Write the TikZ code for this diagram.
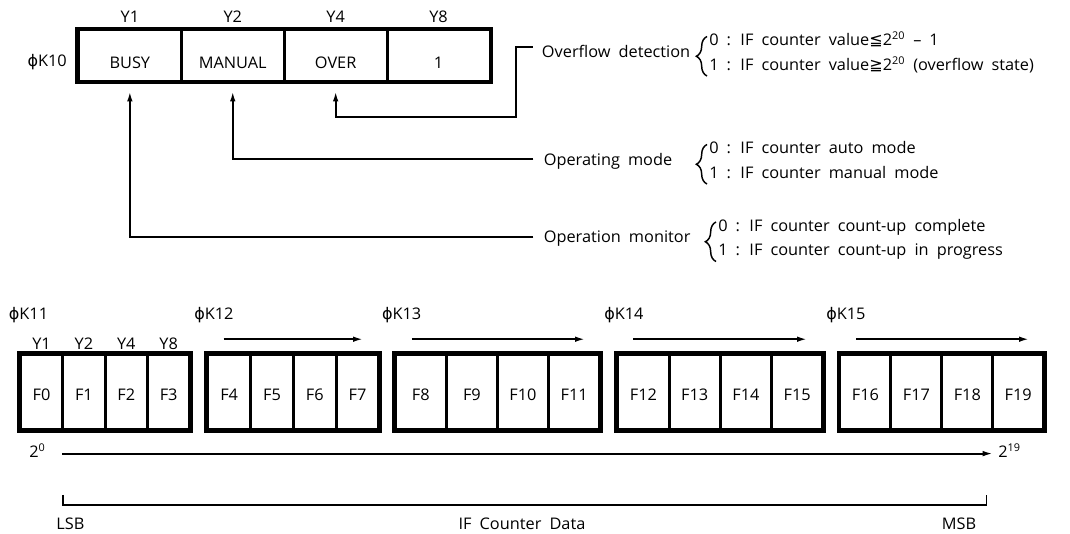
\documentclass[tikz,border=0pt]{standalone}
\usepackage{fontspec}
\setmainfont{Open Sans}[FakeStretch=1.02, WordSpace={1.9,0,0}]
\newfontfamily\symf{DejaVu Sans}
\usetikzlibrary{arrows.meta,decorations.pathreplacing}
\begin{document}
\begin{tikzpicture}[x=0.75pt,y=-0.75pt,
  font=\fontsize{12}{14}\selectfont,
  txt/.style={inner sep=0pt, anchor=base},
  txtw/.style={inner sep=0pt, anchor=base west},
  topcell/.style={draw, line width=2.2pt, inner sep=0pt, minimum width=77.175pt,
    minimum height=38.25pt, text height=28.5pt, text depth=9.75pt},
  botcell/.style={draw, line width=2.2pt, inner sep=0pt,
    minimum height=56.25pt, text height=34.5pt, text depth=21.75pt},
  outer/.style={draw, line width=3pt},
  conn/.style={line width=1.4pt, -{Latex[length=7.5pt,width=4.2pt]}},
  plain/.style={line width=1.4pt},
  brc/.style={decorate, decoration={brace, amplitude=8pt}, line width=1.1pt}
]
\useasboundingbox (0,0) rectangle (1070,533);

% ---------- top register K10
\node[topcell] (busy)   at (129.85,55.5) {BUSY};
\node[topcell] (manual) at (232.75,55.5) {MANUAL};
\node[topcell] (over)   at (335.65,55.5) {OVER};
\node[topcell] (one)    at (438.55,55.5) {1};
\draw[outer] (busy.north west) rectangle (one.south east);
\node[txt] (ty1) at (129.85,22.5) {Y1};
\node[txt] (ty2) at (232.75,22.5) {Y2};
\node[txt] (ty4) at (335.65,22.5) {Y4};
\node[txt] (ty8) at (438.55,22.5) {Y8};
\node[txt, anchor=base east] (k10) at (67,66) {{\symf ϕ}K10};

% ---------- descriptions
\node[txtw] (ovf)  at (541.7,57) {Overflow detection};
\node[txtw] (ovf0) at (709,45.5) {0 : IF counter value{\symf ≦}2\textsuperscript{20} -- 1};
\node[txtw] (ovf1) at (709,70) {1 : IF counter value{\symf ≧}2\textsuperscript{20} (overflow state)};
\draw[brc] (707,76) -- (707,36.5);

\node[txtw] (mode)  at (543.6,165) {Operating mode};
\node[txtw] (mode0) at (709,153.5) {0 : IF counter auto mode};
\node[txtw] (mode1) at (709,178) {1 : IF counter manual mode};
\draw[brc] (707,184) -- (707,144.5);

\node[txtw] (mon)  at (543.6,242.5) {Operation monitor};
\node[txtw] (mon0) at (718,231) {0 : IF counter count-up complete};
\node[txtw] (mon1) at (718,255.5) {1 : IF counter count-up in progress};
\draw[brc] (716,261.5) -- (716,222);

% ---------- connectors
\coordinate (ovfend)  at (532.7,47.3);
\coordinate (ovfknee) at (516,116.7);
\coordinate (modeend) at (533.3,159.3);
\coordinate (monend)  at (533.3,236.7);
\draw[conn] (ovfend) -| (ovfknee) -| ([yshift=-6.75pt]over.south);
\draw[conn] (modeend) -| ([yshift=-6.75pt]manual.south);
\draw[conn] (monend) -| ([yshift=-6.75pt]busy.south);

% ---------- bottom registers K11..K15
\foreach \g/\x/\w in {0/20.4/42.35, 1/207.8/42.775, 2/395.2/51.125, 3/617.8/51.275, 4/840/50.925}{
  \foreach \k in {0,...,3}{
    \pgfmathtruncatemacro\n{4*\g+\k}
    \node[botcell, minimum width=\w*0.75pt] (f\n) at ({\x+\w*(\k+0.5)},392) {F\n};
  }
  \pgfmathtruncatemacro\fa{4*\g}
  \pgfmathtruncatemacro\fb{4*\g+3}
  \draw[outer] (f\fa.north west) rectangle (f\fb.south east);
}
\node[txt] (by1) at (f0|-0,349.5) {Y1};
\node[txt] (by2) at (f1|-0,349.5) {Y2};
\node[txt] (by4) at (f2|-0,349.5) {Y4};
\node[txt] (by8) at (f3|-0,349.5) {Y8};

\node[txtw] (k11) at (8.6,319)   {{\symf ϕ}K11};
\node[txtw] (k12) at (194,319.5) {{\symf ϕ}K12};
\node[txtw] (k13) at (381.8,319.5) {{\symf ϕ}K13};
\node[txtw] (k14) at (604,319.5) {{\symf ϕ}K14};
\node[txtw] (k15) at (826,319.5) {{\symf ϕ}K15};

\coordinate (a2s) at (223.6,339.2); \coordinate (a2e) at (363,339.2);
\coordinate (a3s) at (411.8,339.2); \coordinate (a3e) at (585,339.2);
\coordinate (a4s) at (633,339.2);   \coordinate (a4e) at (807,339.2);
\coordinate (a5s) at (856,339.2);   \coordinate (a5e) at (1029,339.2);
\draw[conn] (a2s) -- (a2e);
\draw[conn] (a3s) -- (a3e);
\draw[conn] (a4s) -- (a4e);
\draw[conn] (a5s) -- (a5e);

% ---------- weight arrow
\node[txtw] (p0)  at (29,457.7)  {2\textsuperscript{0}};
\node[txtw] (p19) at (998,457.7) {2\textsuperscript{19}};
\coordinate (ws) at (62,453.6);
\coordinate (we) at (992.7,453.6);
\draw[conn] (ws) -- (we);

% ---------- bracket
\coordinate (bl) at (63,494.9);
\coordinate (br) at (986.5,494.9);
\draw[plain] (bl) -- (63,505.2) -- (986.5,505.2) -- (br);
\node[txt] (lsb) at (70.5,529.5) {LSB};
\node[txt] (data) at (522,529.5) {IF Counter Data};
\node[txt] (msb) at (959,529.5) {MSB};
\end{tikzpicture}
\end{document}
